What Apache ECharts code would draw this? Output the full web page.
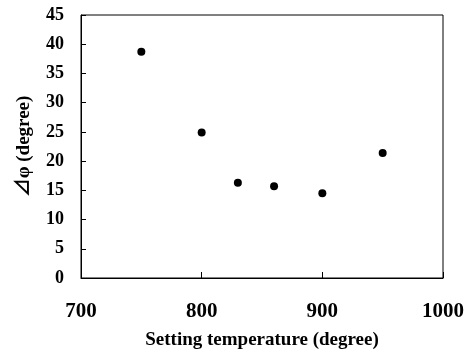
<!DOCTYPE html>
<html><head><meta charset="utf-8">
<script src="https://cdn.jsdelivr.net/npm/echarts@6/dist/echarts.min.js"></script>
<style>html,body{margin:0;padding:0;background:#fff}#c{width:470px;height:351px}</style>
</head><body><div id="c"></div>
<script>
const temperatures = [750, 800, 830, 860, 900, 950];
const deltaPhi = [38.7, 24.9, 16.3, 15.7, 14.5, 21.4];
const xTicks = [700, 800, 900, 1000];
const yTicks = [0, 5, 10, 15, 20, 25, 30, 35, 40, 45];
const xName = 'Setting temperature (degree)';
const yName = '⊿φ (degree)';

const serif = '"Liberation Serif", "Times New Roman", "Noto Sans CJK JP", serif';
const chart = echarts.init(document.getElementById('c'), null, {renderer: 'canvas'});
chart.setOption({
  animation: false,
  backgroundColor: '#fff',
  grid: {left: 81, right: 27, top: 15, bottom: 73, show: true, borderColor: '#000', borderWidth: 1,
    backgroundColor: 'transparent', outerBoundsMode: 'none', containLabel: false},
  xAxis: {
    type: 'value', min: xTicks[0], max: xTicks[xTicks.length - 1], interval: 100,
    name: xName, nameLocation: 'middle', nameGap: 53,
    nameTextStyle: {fontFamily: serif, fontWeight: 'bold', fontSize: 19, color: '#000'},
    axisLine: {show: true, onZero: false, lineStyle: {color: '#000', width: 1}},
    axisTick: {show: true, inside: true, length: 6, lineStyle: {color: '#000'}},
    axisLabel: {fontFamily: serif, fontWeight: 'bold', fontSize: 21, color: '#000', margin: 23,
      formatter: v => String(v)},
    splitLine: {show: false}
  },
  yAxis: {
    type: 'value', min: yTicks[0], max: yTicks[yTicks.length - 1], interval: 5,
    name: yName, nameLocation: 'middle', nameGap: 47, nameRotate: 90,
    nameTextStyle: {fontFamily: serif, fontWeight: 'bold', fontSize: 19, color: '#000'},
    axisLine: {show: true, onZero: false, lineStyle: {color: '#000', width: 1}},
    axisTick: {show: true, inside: true, length: 5, lineStyle: {color: '#000'}},
    axisLabel: {fontFamily: serif, fontWeight: 'bold', fontSize: 18, color: '#000', margin: 17},
    splitLine: {show: false}
  },
  series: [{
    type: 'scatter',
    data: temperatures.map((t, i) => [t, deltaPhi[i]]),
    symbol: 'circle', symbolSize: 8,
    itemStyle: {color: '#000', opacity: 1}
  }]
});
</script></body></html>
